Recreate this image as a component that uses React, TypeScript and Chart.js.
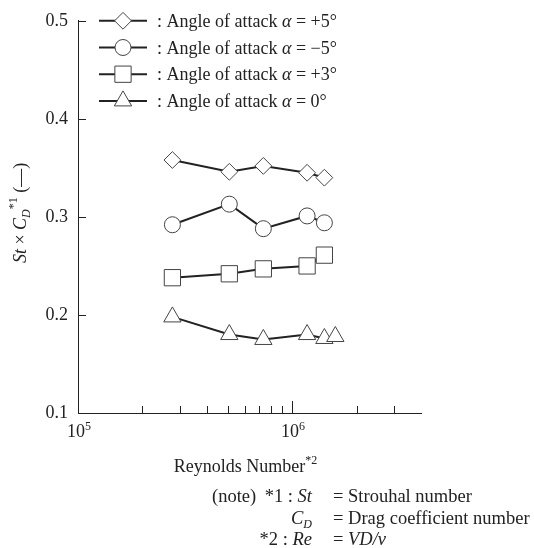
import React, { useEffect, useRef } from 'react';
import { Chart, registerables } from 'chart.js';
import { drawPoint } from 'chart.js/helpers';

Chart.register(...registerables);

// ---- data ----
const reynolds = [2.76e5, 5.09e5, 7.34e5, 1.175e6, 1.415e6];
const reynoldsZero = [2.76e5, 5.09e5, 7.34e5, 1.175e6, 1.415e6, 1.592e6];
const stCdPlus5 = [0.358, 0.346, 0.352, 0.345, 0.34];
const stCdMinus5 = [0.292, 0.313, 0.288, 0.301, 0.294];
const stCdPlus3 = [0.238, 0.242, 0.247, 0.25, 0.261];
const stCdZero = [0.198, 0.18, 0.175, 0.18, 0.176, 0.178];
const angleLabels = ['+5°', '−5°', '+3°', '0°'];
const yTickValues = [0.1, 0.2, 0.3, 0.4, 0.5];
const xMajorTicks = [1e5, 1e6];
const xMajorExponents = ['5', '6'];
const xMinorTicks = [2e5, 3e5, 4e5, 5e5, 6e5, 7e5, 8e5, 9e5, 2e6, 3e6];

const FAM = "'Liberation Serif', 'Times New Roman', serif";
const F18 = `18px ${FAM}`;
const I18 = `italic 18px ${FAM}`;
const N18 = `18.5px ${FAM}`;
const NI18 = `italic 18.5px ${FAM}`;
const F12 = `12px ${FAM}`;
const I12 = `italic 12px ${FAM}`;
const INK = '#222';
const MARK = '#444';

const styles = [
  { pointStyle: 'rectRot', radius: 8.4 },
  { pointStyle: 'circle', radius: 8 },
  { pointStyle: 'rect', radius: 11.5 },
  { pointStyle: 'triangle', radius: 10 },
];

type Seg = { t: string; f: string; dy?: number };

function segWidth(ctx: CanvasRenderingContext2D, segs: Seg[]) {
  let w = 0;
  for (const s of segs) {
    ctx.font = s.f;
    w += ctx.measureText(s.t).width;
  }
  return w;
}
function drawSegs(ctx: CanvasRenderingContext2D, segs: Seg[], x: number, y: number) {
  let cx = x;
  for (const s of segs) {
    ctx.font = s.f;
    ctx.fillText(s.t, cx, y + (s.dy || 0));
    cx += ctx.measureText(s.t).width;
  }
  return cx;
}

const overlay = {
  id: 'overlay',
  afterDraw(chart: any) {
    const ctx: CanvasRenderingContext2D = chart.ctx;
    const xs = chart.scales.x;
    const ys = chart.scales.y;
    const a = chart.chartArea;
    ctx.save();
    ctx.strokeStyle = INK;
    ctx.lineWidth = 1;
    ctx.beginPath();
    for (const v of yTickValues) {
      if (v === yTickValues[0]) continue;
      const py = Math.round(ys.getPixelForValue(v)) + 0.5;
      ctx.moveTo(a.left, py);
      ctx.lineTo(a.left + 8, py);
    }
    for (const v of xMinorTicks) {
      const px = Math.round(xs.getPixelForValue(v)) + 0.5;
      ctx.moveTo(px, a.bottom);
      ctx.lineTo(px, a.bottom - 7);
    }
    for (const v of xMajorTicks) {
      if (v === xMajorTicks[0]) continue;
      const px = Math.round(xs.getPixelForValue(v)) + 0.5;
      ctx.moveTo(px, a.bottom);
      ctx.lineTo(px, a.bottom - 12);
    }
    ctx.stroke();

    ctx.fillStyle = INK;
    ctx.textBaseline = 'alphabetic';
    ctx.textAlign = 'left';
    // x tick labels
    xMajorTicks.forEach((v, i) => {
      const segs: Seg[] = [
        { t: '10', f: F18 },
        { t: xMajorExponents[i], f: F12, dy: -7 },
      ];
      const w = segWidth(ctx, segs);
      const px = xs.getPixelForValue(v);
      drawSegs(ctx, segs, px - w / 2 + 1, a.bottom + 24);
    });
    // x title
    {
      const segs: Seg[] = [
        { t: 'Reynolds Number', f: F18 },
        { t: '*2', f: F12, dy: -8 },
      ];
      const w = segWidth(ctx, segs);
      drawSegs(ctx, segs, (a.left + a.right) / 2 - w / 2 - 4, a.bottom + 59);
    }
    // y title
    {
      const segs: Seg[] = [
        { t: 'St', f: I18 },
        { t: ' × ', f: F18 },
        { t: 'C', f: I18 },
        { t: 'D', f: I12, dy: 4 },
        { t: '*1', f: F12, dy: -9 },
        { t: ' (—)', f: F18 },
      ];
      const w = segWidth(ctx, segs);
      ctx.save();
      ctx.translate(26, (a.top + a.bottom) / 2 - 4);
      ctx.rotate(-Math.PI / 2);
      drawSegs(ctx, segs, -w / 2, 0);
      ctx.restore();
    }
    // legend
    for (let i = 0; i < 4; i++) {
      const y = a.top + i * 26.7;
      ctx.strokeStyle = INK;
      ctx.lineWidth = 2;
      ctx.beginPath();
      ctx.moveTo(99, y);
      ctx.lineTo(147, y);
      ctx.stroke();
      ctx.fillStyle = '#fff';
      ctx.strokeStyle = MARK;
      ctx.lineWidth = 1;
      drawPoint(ctx, { ...styles[i], rotation: 0, borderWidth: 1 } as any, 123, y);
      ctx.fillStyle = INK;
      drawSegs(
        ctx,
        [
          { t: ': Angle of attack ', f: F18 },
          { t: 'α', f: I18 },
          { t: ' = ' + angleLabels[i], f: F18 },
        ],
        157,
        y + 6
      );
    }
    // notes
    const eqX = 333;
    const labEnd = 312;
    const l1 = 502;
    const l2 = 523.5;
    const l3 = 545;
    ctx.fillStyle = INK;
    drawSegs(ctx, [{ t: '(note)', f: N18 }], 212, l1);
    {
      const s: Seg[] = [
        { t: '*1 : ', f: N18 },
        { t: 'St', f: NI18 },
      ];
      drawSegs(ctx, s, labEnd - segWidth(ctx, s), l1);
      drawSegs(ctx, [{ t: '= Strouhal number', f: N18 }], eqX, l1);
    }
    {
      const s: Seg[] = [
        { t: 'C', f: NI18 },
        { t: 'D', f: I12, dy: 4 },
      ];
      drawSegs(ctx, s, labEnd - segWidth(ctx, s), l2);
      drawSegs(ctx, [{ t: '= Drag coefficient number', f: N18 }], eqX, l2);
    }
    {
      const s: Seg[] = [
        { t: '*2 : ', f: N18 },
        { t: 'Re', f: NI18 },
      ];
      drawSegs(ctx, s, labEnd - segWidth(ctx, s), l3);
      drawSegs(
        ctx,
        [
          { t: '= ', f: N18 },
          { t: 'VD/ν', f: NI18 },
        ],
        eqX,
        l3
      );
    }
    ctx.restore();
  },
};

function toPoints(xs: number[], ys: number[]) {
  return ys.map((y, i) => ({ x: xs[i], y }));
}

export default function App() {
  const ref = useRef<HTMLCanvasElement | null>(null);
  useEffect(() => {
    if (!ref.current) return;
    const series = [
      toPoints(reynolds, stCdPlus5),
      toPoints(reynolds, stCdMinus5),
      toPoints(reynolds, stCdPlus3),
      toPoints(reynoldsZero, stCdZero),
    ];
    const chart = new Chart(ref.current, {
      type: 'line',
      data: {
        datasets: series.map((d, i) => ({
          label: 'Angle of attack α = ' + angleLabels[i],
          data: d,
          borderColor: INK,
          borderWidth: 2,
          backgroundColor: '#fff',
          pointBackgroundColor: '#fff',
          pointBorderColor: MARK,
          pointBorderWidth: 1,
          pointStyle: styles[i].pointStyle as any,
          pointRadius: styles[i].radius,
          pointHoverRadius: styles[i].radius,
          tension: 0,
          fill: false,
        })),
      },
      options: {
        responsive: false,
        animation: false,
        events: [],
        layout: { padding: { left: 0, top: 20, right: 113, bottom: 0 } },
        plugins: { legend: { display: false }, tooltip: { enabled: false }, title: { display: false } },
        scales: {
          x: {
            type: 'logarithmic',
            min: 1e5,
            max: 4e6,
            grid: { display: false, drawTicks: false },
            border: { display: true, color: INK, width: 1 },
            ticks: { display: false },
            afterFit: (s: any) => {
              s.height = 135;
            },
          },
          y: {
            type: 'linear',
            min: 0.1,
            max: 0.5,
            grid: { display: false, drawTicks: false },
            border: { display: true, color: INK, width: 1 },
            ticks: {
              stepSize: 0.1,
              padding: 10,
              color: INK,
              font: { family: FAM, size: 18 },
              callback: (v: any) => Number(v).toFixed(1),
            },
            afterFit: (s: any) => {
              s.width = 78;
            },
          },
        },
      },
      plugins: [overlay],
    });
    return () => chart.destroy();
  }, []);
  return (
    <div style={{ position: 'absolute', left: 0, top: 0, width: 534, height: 548, background: '#fff' }}>
      <canvas ref={ref} width={534} height={548} style={{ display: 'block' }} />
    </div>
  );
}
